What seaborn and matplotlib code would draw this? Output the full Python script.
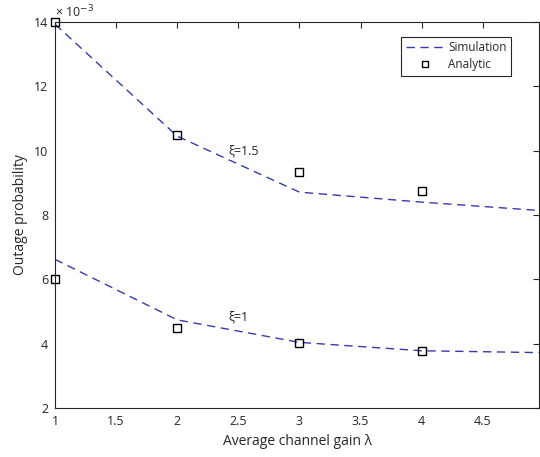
import matplotlib
matplotlib.use("Agg")
import matplotlib.pyplot as plt
import seaborn as sns
import pandas as pd

# Data (values in units of 1e-3)
lam = [1, 2, 3, 4, 5]
sim_xi15 = [13.93, 10.45, 8.71, 8.40, 8.13]
sim_xi1 = [6.62, 4.74, 4.04, 3.78, 3.72]
ana_lam = [1, 2, 3, 4]
ana_xi15 = [14.0, 10.5, 9.35, 8.74]
ana_xi1 = [6.0, 4.5, 4.02, 3.77]

xticks = [1, 1.5, 2, 2.5, 3, 3.5, 4, 4.5]
yticks = [2, 4, 6, 8, 10, 12, 14]

sns.set_style("white")
plt.rcParams['font.family'] = ['Open Sans', 'DejaVu Sans']

sim = pd.DataFrame({"lam": lam * 2, "p": sim_xi15 + sim_xi1,
                    "xi": ["1.5"] * 5 + ["1"] * 5})
ana = pd.DataFrame({"lam": ana_lam * 2, "p": ana_xi15 + ana_xi1,
                    "xi": ["1.5"] * 4 + ["1"] * 4})

fig = plt.figure(figsize=(5.4, 4.57), dpi=100)
ax = fig.add_axes([0.1019, 0.1072, 0.8963, 0.8447])

line_color = "#3a3aa8"
for i, (key, g) in enumerate(sim.groupby("xi", sort=False)):
    sns.lineplot(data=g, x="lam", y="p", ax=ax, color=line_color,
                 linewidth=1.0, label="Simulation" if i == 0 else None,
                 zorder=2)
for l in ax.get_lines():
    l.set_linestyle((0, (6, 4)))

for i, (key, g) in enumerate(ana.groupby("xi", sort=False)):
    ax.plot(g["lam"], g["p"], linestyle="none", marker="s", markersize=6,
            markerfacecolor="none", markeredgecolor="black", markeredgewidth=1.0,
            label="Analytic" if i == 0 else None, zorder=3, clip_on=False)

ax.set_xlim(1, 4.96)
ax.set_ylim(2, 14)
ax.set_xticks(xticks)
ax.set_xticklabels([f"{t:g}" for t in xticks])
ax.set_yticks(yticks)
ax.set_yticklabels([f"{t:g}" for t in yticks])
ax.tick_params(direction="in", length=4, width=0.8, top=True, right=True,
               labelsize=9, colors="#262626", pad=5)
for s in ax.spines.values():
    s.set_color("#262626")
    s.set_linewidth(0.8)

ax.set_xlabel("Average channel gain λ", fontsize=10, color="#262626")
ax.set_ylabel("Outage probability", fontsize=10, color="#262626")

ax.text(0.0, 1.004, "× 10$^{-3}$", transform=ax.transAxes, fontsize=9,
        color="#262626", ha="left", va="bottom")
ax.text(2.42, 10.0, "ξ=1.5", fontsize=9, color="#262626", ha="left", va="center")
ax.text(2.42, 4.82, "ξ=1", fontsize=9, color="#262626", ha="left", va="center")

leg = ax.legend(loc="upper right", bbox_to_anchor=(0.955, 0.977), fontsize=8.5,
                frameon=True, fancybox=False, edgecolor="#262626",
                handlelength=3.2, borderpad=0.4, labelspacing=0.3, handletextpad=0.4,
                markerscale=0.8)
leg.get_frame().set_linewidth(0.8)
leg.get_frame().set_alpha(1)

fig.savefig("out.png", dpi=100)
